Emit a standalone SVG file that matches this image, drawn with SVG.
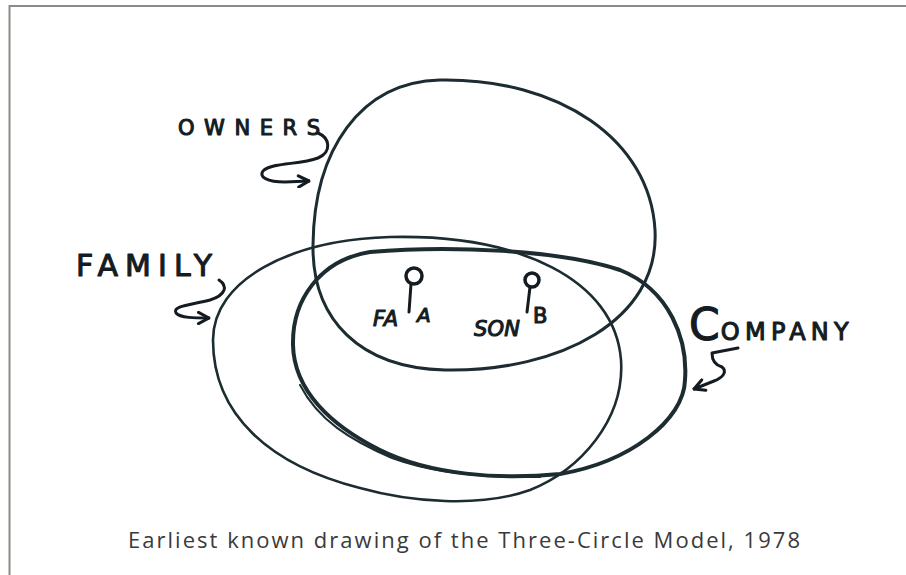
<svg xmlns="http://www.w3.org/2000/svg" width="906" height="575" viewBox="0 0 906 575">
<defs>
<style>
.ring{fill:none;stroke:#1c2c30;stroke-linecap:round;stroke-linejoin:round}
.hand{font-family:"DejaVu Sans","Liberation Sans",sans-serif;font-weight:normal;fill:#141c22;stroke:#141c22;stroke-width:1.1;stroke-linejoin:round}
.arrow{fill:none;stroke:#141c22;stroke-width:3;stroke-linecap:round;stroke-linejoin:round}
.caption{font-family:"Open Sans","Liberation Sans",sans-serif;font-size:22px;fill:#3a3a3a}
</style>
<marker id="chev" viewBox="0 0 10 10" refX="9" refY="5" markerWidth="14" markerHeight="14" markerUnits="userSpaceOnUse" orient="auto">
<path d="M1.5,1 L9,5 L1.5,9" fill="none" stroke="#141c22" stroke-width="2.2" stroke-linecap="round" stroke-linejoin="round"/>
</marker>
</defs>
<rect width="906" height="575" fill="#ffffff"/>
<path d="M9.5,575 L9.5,6 L906,6" fill="none" stroke="#8c8c86" stroke-width="2"/>

<g id="owners">
<path class="ring" stroke-width="3" d="M440,80 C560,78 650,140 655,230 C660,320 560,372 445,370 C360,368 312,320 313,245 C314,150 360,82 440,80 Z"/>
<text class="hand" x="178" y="135" font-size="21" textLength="142" lengthAdjust="spacing">OWNERS</text>
</g>

<g id="family">
<path class="ring" stroke-width="2.6" d="M213,340 C213,280 290,240 390,237 C520,234 615,280 621,360 C625,420 580,470 530,490 C480,508 410,502 360,488 C270,465 213,415 213,340 Z"/>
<text class="hand" x="76" y="276" font-size="30" textLength="136" lengthAdjust="spacing">FAMILY</text>
</g>

<g id="company">
<path class="ring" stroke-width="4" d="M293,345 C292,300 320,260 370,252 C450,245 560,250 620,270 C670,290 688,340 685,380 C684,420 630,462 560,474 C500,480 430,475 380,450 C330,425 294,390 293,345 Z"/>
<path class="ring" stroke-width="2" d="M300,385 C318,420 350,440 392,458 C430,472 480,478 540,477"/>
<text class="hand" x="689" y="340" font-size="44">C<tspan font-size="24" dx="1" textLength="128" lengthAdjust="spacing">OMPANY</tspan></text>
</g>

<g id="people">
<text class="hand" x="373" y="326" font-size="21" font-style="italic">FA</text>
<circle cx="414" cy="276" r="8" fill="none" stroke="#141c22" stroke-width="3.5"/>
<path d="M411,284 L409,312" class="arrow" stroke-width="3.5"/>
<text class="hand" x="417" y="322" font-size="20" font-style="italic">A</text>
<text class="hand" x="474" y="336" font-size="21" font-style="italic" textLength="46" lengthAdjust="spacing">SON</text>
<circle cx="532" cy="280" r="7" fill="none" stroke="#141c22" stroke-width="3.5"/>
<path d="M530,287 L527,312" class="arrow" stroke-width="3.5"/>
<text class="hand" x="533" y="323" font-size="21">B</text>
</g>

<g id="connectors">
<path class="arrow" marker-end="url(#chev)" d="M318,133 C330,138 332,152 318,158 C300,165 275,162 264,170 C257,177 268,182 285,182 L309,181"/>
<path class="arrow" marker-end="url(#chev)" d="M219,280 C228,286 226,295 210,300 C190,305 172,306 176,313 C180,318 195,318 209,318"/>
<path class="arrow" marker-end="url(#chev)" d="M738,348 L712,353 C712,360 715,365 722,367 C728,372 722,378 714,381 L694,389"/>
</g>

<text class="caption" x="128" y="548" textLength="672" lengthAdjust="spacing">Earliest known drawing of the Three-Circle Model, 1978</text>
</svg>
